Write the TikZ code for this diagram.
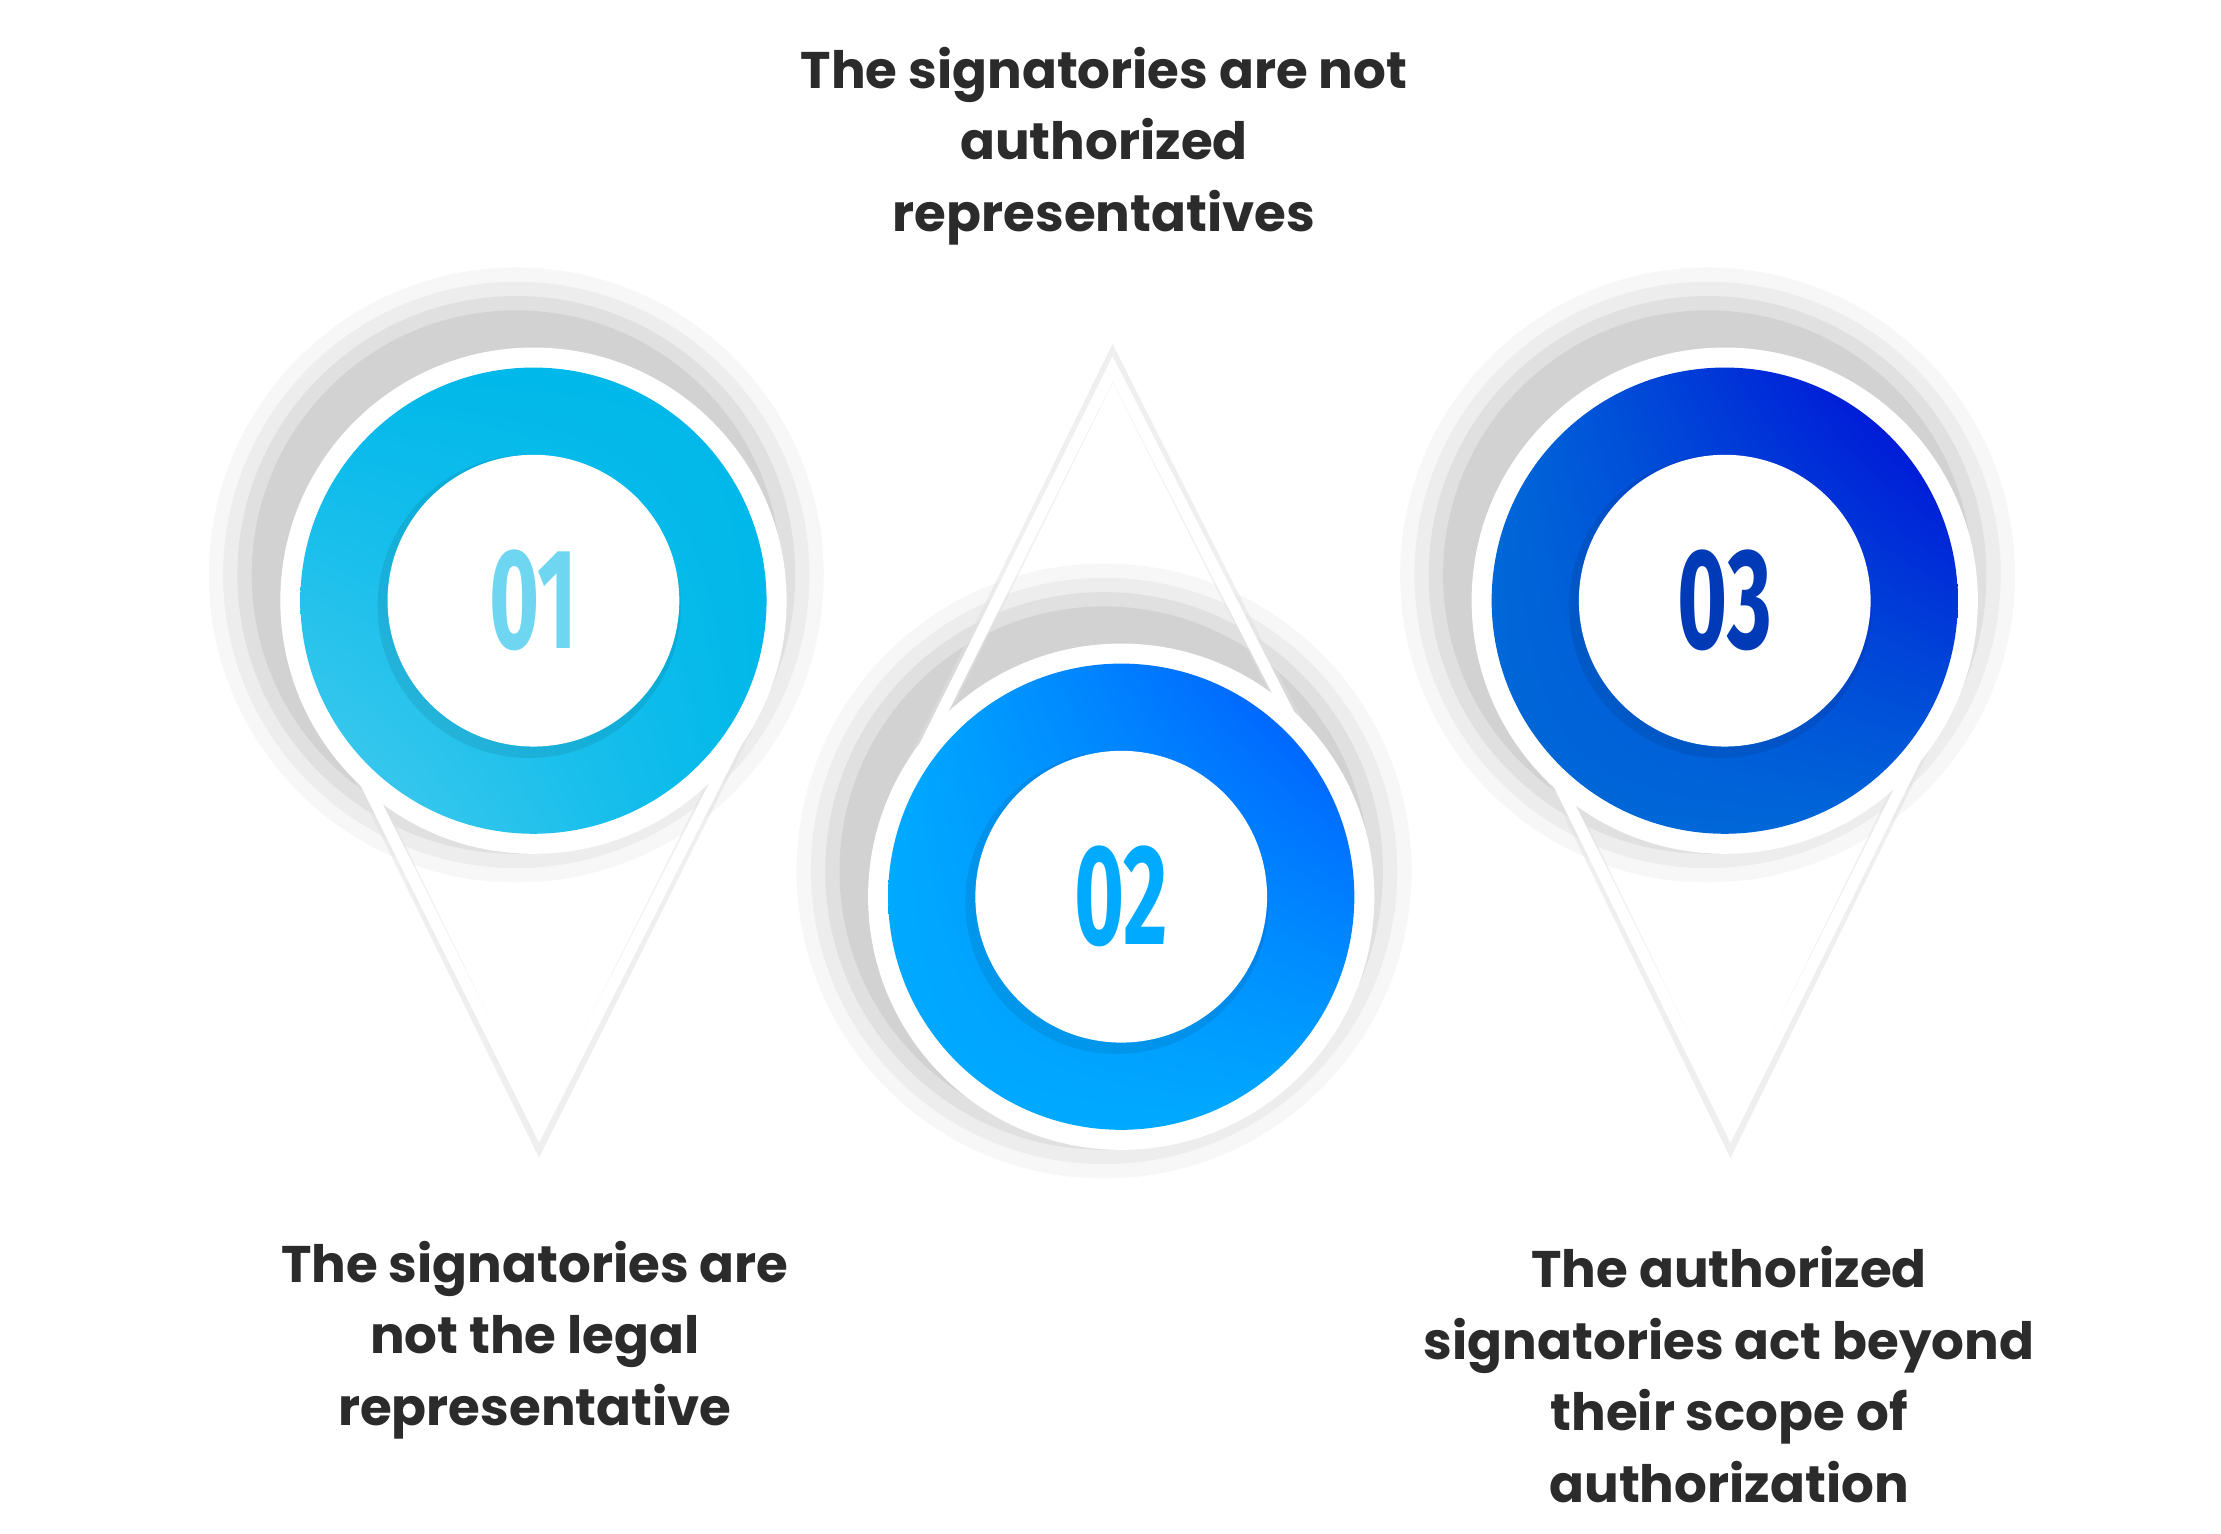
\documentclass[tikz,border=0pt]{standalone}
\usepackage{fontspec}
\setmainfont{Poppins}
\newfontfamily\numfont{Fira Sans}
\usetikzlibrary{calc,shadings}
\definecolor{txt}{HTML}{2B2B2B}
\tikzset{
  tri/.style={draw=white,line width=8pt,line join=miter},
  trishadow/.style={draw=black!12,line width=12pt,line join=miter,opacity=0.5},
  lbl/.style={text=txt,font=\fontsize{36}{50}\selectfont\bfseries,align=center},
  num/.style={font=\numfont\fontsize{100}{100}\selectfont\bfseries}
}
\newcommand{\pinshadow}[1]{%
  \foreach \r/\o in {215/0.03,205/0.04,195/0.05,185/0.06}{\fill[black,opacity=\o] ($(#1)+(-12,-18)$) circle (\r);}}
\begin{document}
\begin{tikzpicture}[x=1pt,y=-1pt]
\useasboundingbox (0,0) rectangle (1553,1072);
\fill[white] (0,0) rectangle (1553,1072);
% coordinates
\coordinate (c1) at (373,420);
\coordinate (c2) at (784,627);
\coordinate (c3) at (1206,420);
\coordinate (a1) at (377,790);
\coordinate (a2) at (778,258);
\coordinate (a3) at (1210,790);
% shadows
\pinshadow{c1}\pinshadow{c2}\pinshadow{c3}
% triangles
\draw[trishadow] (232,500) -- ($(a1)+(0,6)$) -- (522,505);
\draw[tri] (232,500) -- (a1) -- (522,505);
\draw[trishadow] (640,535) -- ($(a2)+(0,-4)$) -- (940,575);
\draw[tri] (640,535) -- (a2) -- (940,575);
\draw[trishadow] (1066,500) -- ($(a3)+(0,6)$) -- (1352,505);
\draw[tri] (1066,500) -- (a3) -- (1352,505);
% circles
\foreach \c in {c1,c2,c3}{\fill[white] (\c) circle (177);}
\definecolor{r1a}{HTML}{00B8EA}\definecolor{r1b}{HTML}{4ACCEE}
\definecolor{r2a}{HTML}{00AAFF}\definecolor{r2b}{HTML}{0050FF}
\definecolor{r3a}{HTML}{0068D8}\definecolor{r3b}{HTML}{0000D8}
\shade[lower left=r1b,upper right=r1a,lower right=r1a,upper left=r1a] (c1) circle (163);
\shade[lower left=r2a,upper right=r2b,lower right=r2a,upper left=r2a] (c2) circle (163);
\shade[lower left=r3a,upper right=r3b,lower right=r3a,upper left=r3a] (c3) circle (163);
\fill[black,opacity=0.08] ($(c1)+(-3,4)$) circle (106);
\fill[black,opacity=0.08] ($(c2)+(-3,4)$) circle (106);
\fill[black,opacity=0.08] ($(c3)+(-3,4)$) circle (106);
\node[circle,fill=white,minimum size=204pt,inner sep=0] (n1) at (c1) {};
\node[circle,fill=white,minimum size=204pt,inner sep=0] (n2) at (c2) {};
\node[circle,fill=white,minimum size=204pt,inner sep=0] (n3) at (c3) {};
\node[num,text=r1b!80!white] (t1) at (n1) {\scalebox{0.6}[1]{01}};
\node[num,text=r2a] (t2) at (n2) {\scalebox{0.6}[1]{02}};
\node[num,text=r3a!70!blue!80!black] (t3) at (n3) {\scalebox{0.6}[1]{03}};
% labels
\node[lbl] (l2) at (772,102) {The signatories are not\\authorized\\representatives};
\node[lbl] (l1) at (374,937) {The signatories are\\not the legal\\representative};
\node[lbl] (l3) at (1209,961) {The authorized\\signatories act beyond\\their scope of\\authorization};
\end{tikzpicture}
\end{document}
